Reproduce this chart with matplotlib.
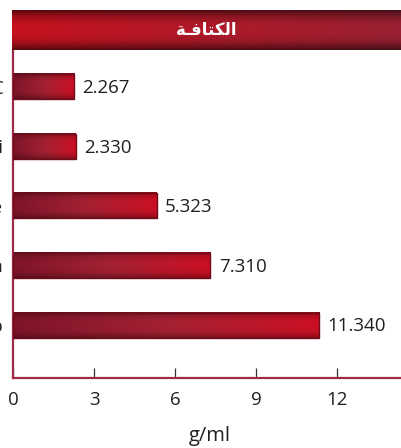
import numpy as np
import matplotlib.pyplot as plt
from matplotlib.patches import Rectangle

# data
elements = ["C", "Si", "Ge", "Sn", "Pb"]
density = [2.267, 2.330, 5.323, 7.310, 11.340]
value_labels = ["2.267", "2.330", "5.323", "7.310", "11.340"]
xticks = [0, 3, 6, 9, 12]
title = "الكثافـة"
unit = "g/ml"

# matplotlib has no arabic shaping: map to presentation forms, visual order
forms = {"ا": "\uFE8D", "ل": "\uFEDF", "ك": "\uFEDC", "ث": "\uFE98",
         "ف": "\uFED3", "ة": "\uFE94", "ـ": "\u0640"}
title_vis = "".join(forms[c] for c in title)
title_vis = title_vis.replace("\uFE8D", "\uFE8E", 2).replace("\uFE8E", "\uFE8D", 1)[::-1]

fig = plt.figure(figsize=(4.02, 4.48), dpi=100)
W, H = 402, 448
ax = fig.add_axes([13 / W, (H - 378) / H, 1 - 13 / W + 0.02, (378 - 50) / H])

ypos = np.arange(len(elements))[::-1]
bh = 0.42

# gradient image for bars
nx, ny = 64, 16
tx = np.linspace(0, 1, nx)
ty = np.linspace(-1, 1, ny)
left = np.array([0.50, 0.08, 0.16])
mid = np.array([0.64, 0.13, 0.20])
right = np.array([0.80, 0.06, 0.14])
grad = np.zeros((ny, nx, 3))
for i, t in enumerate(tx):
    c = left + (mid - left) * min(t * 2, 1) if t < 0.5 else mid + (right - mid) * (t - 0.5) * 2
    for j, s in enumerate(ty):
        grad[j, i] = c * (1 - 0.3 * abs(s) ** 3)

for y, v, lab in zip(ypos, density, value_labels):
    ax.imshow(grad, extent=[0, v, y - bh / 2, y + bh / 2], aspect="auto",
              interpolation="bilinear", zorder=2)
    ax.add_patch(Rectangle((0, y - bh / 2), v, bh, fill=False,
                           edgecolor="#6e0c1a", lw=1.0, zorder=3))
    ax.annotate(lab, (v, y), xytext=(6, -1), textcoords="offset points",
                va="center", ha="left", fontsize=13.5, color="#231f20",
                family="Open Sans")

ax.set_xlim(0, 14.7)
ax.set_ylim(-0.89, 4.62)
ax.set_yticks(ypos)
ax.set_yticklabels(elements, fontsize=13.5, family="Open Sans", color="#231f20")
ax.tick_params(axis="y", length=0, pad=7)
ax.set_xticks(xticks)
ax.set_xticklabels([str(t) for t in xticks], fontsize=13.5, family="Open Sans",
                   color="#231f20")
ax.tick_params(axis="x", direction="in", length=7, width=0.9, color="#333333", pad=9)
ax.set_xlabel(unit, fontsize=14.5, family="Open Sans", color="#231f20")
ax.xaxis.set_label_coords((210 - 13) / (W - 13 + 0.02 * W), -0.145)
for s in ["top", "right"]:
    ax.spines[s].set_visible(False)
for s in ["left", "bottom"]:
    ax.spines[s].set_color("#9e2a45")
    ax.spines[s].set_linewidth(1.6)
ax.set_facecolor("none")

# title banner
bax = fig.add_axes([12 / W, (H - 50) / H, 1 - 12 / W, 40 / H])
bx = np.linspace(0, 1, 200)
by = np.linspace(-1, 1, 40)
ban = np.zeros((40, 200, 3))
b_left = np.array([0.78, 0.07, 0.12])
b_right = np.array([0.60, 0.13, 0.20])
for i, t in enumerate(bx):
    c = b_left + (b_right - b_left) * t
    for j, s in enumerate(by):
        ban[j, i] = c * (1 - 0.55 * abs(s) ** 2.5)
bax.imshow(ban, extent=[0, 1, 0, 1], aspect="auto", interpolation="bilinear")
bax.set_xlim(0, 1)
bax.set_ylim(0, 1)
bax.axis("off")
bax.text(0.5, 0.5, title_vis, ha="center", va="center", color="white",
         fontsize=12, fontweight="bold", family="DejaVu Sans")

fig.savefig("out.png", dpi=100)
